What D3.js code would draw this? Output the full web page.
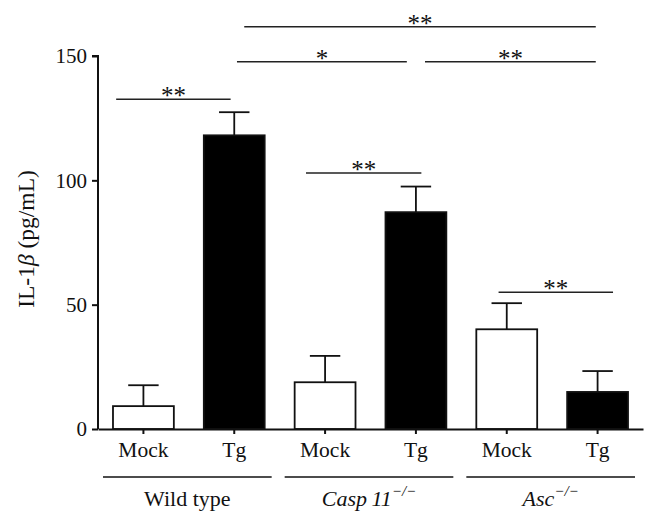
<!DOCTYPE html>
<html><head><meta charset="utf-8">
<script src="https://cdn.jsdelivr.net/npm/d3@7"></script>
<style>body{margin:0;background:#fff}svg{display:block}text{font-family:"Liberation Serif","DejaVu Serif",serif;fill:#111}</style>
</head><body><svg id="c" width="657" height="529"></svg>
<script>
const categories = ["Mock","Tg","Mock","Tg","Mock","Tg"];
const treatments = ["mock","tg","mock","tg","mock","tg"];
const values = [9.2, 118.1, 18.8, 87.2, 40.1, 14.9];
const errors = [8.4, 9.3, 10.6, 10.3, 10.5, 8.4];
const yTicks = [0, 50, 100, 150];
const groups = [
  {name:"Wild type", sup:"", italic:false, from:0, to:1},
  {name:"Casp\u200911", sup:"\u2212/\u2212", italic:true, from:2, to:3},
  {name:"Asc", sup:"\u2212/\u2212", italic:true, from:4, to:5}
];
// significance brackets: x in category-index units, y in data units
const sigX1 = [-0.30, 1.11, 1.03, 3.10, 1.79, 3.91];
const sigX2 = [0.96, 4.98, 2.90, 4.98, 3.06, 5.17];
const sigY  = [132.6, 161.8, 147.7, 147.7, 102.9, 55.0];
const sigLabel = ["**","**","*","**","**","**"];

const svg = d3.select("#c");
const x = d3.scaleBand().domain(d3.range(categories.length)).range([98, 643]).paddingInner(0.33).paddingOuter(0.165);
const xi = d3.scaleLinear().domain([0,1]).range([x(0)+x.bandwidth()/2, x(1)+x.bandwidth()/2]);
const y = d3.scaleLinear().domain([0,150]).range([429, 56]);

// error bars
const eb = svg.append("g");
values.forEach((v,i)=>{
  const cx = x(i)+x.bandwidth()/2;
  eb.append("line").attr("x1",cx).attr("x2",cx).attr("y1",y(v)).attr("y2",y(v+errors[i])).attr("stroke","#111").attr("stroke-width",1.8);
  eb.append("line").attr("x1",cx-x.bandwidth()/4).attr("x2",cx+x.bandwidth()/4).attr("y1",y(v+errors[i])).attr("y2",y(v+errors[i])).attr("stroke","#111").attr("stroke-width",1.8);
});
// bars
svg.append("g").selectAll("rect").data(values).join("rect")
  .attr("x",(d,i)=>x(i)).attr("width",x.bandwidth())
  .attr("y",d=>y(d)).attr("height",d=>y(0)-y(d))
  .attr("fill",(d,i)=>treatments[i]==="tg"?"#000":"#fff")
  .attr("stroke","#111").attr("stroke-width",1.8);

// y axis
const ya = svg.append("g").attr("transform","translate(98,0)")
  .call(d3.axisLeft(y).tickValues(yTicks).tickSize(6).tickPadding(5));
ya.selectAll("path,line").attr("stroke","#111").attr("stroke-width",2);
ya.select(".domain").attr("d", `M-6,${y(150)}H0V${y(0)}`);
ya.selectAll("text").attr("font-size",21).attr("font-family","Liberation Serif").attr("fill","#111");

// x axis
const xa = svg.append("g").attr("transform","translate(0,429)")
  .call(d3.axisBottom(x).tickFormat(i=>categories[i]).tickSize(5).tickPadding(8).tickSizeOuter(0));
xa.selectAll("path,line").attr("stroke","#111").attr("stroke-width",2);
xa.selectAll("text").attr("font-size",21.5).attr("font-family","Liberation Serif").attr("fill","#111");

// group lines & labels
groups.forEach(g=>{
  const x1 = x(g.from) - x.step()*x.paddingInner()/2 + 5;
  const x2 = x(g.to) + x.bandwidth() + x.step()*x.paddingInner()/2 - 8;
  svg.append("line").attr("x1",x1).attr("x2",x2).attr("y1",477).attr("y2",477).attr("stroke","#111").attr("stroke-width",1.5);
  const t = svg.append("text").attr("x",(x1+x2)/2).attr("y",506).attr("text-anchor","middle").attr("font-size",22);
  t.append("tspan").text(g.name).attr("font-style",g.italic?"italic":"normal");
  if(g.sup) t.append("tspan").text(g.sup).attr("font-style","italic").attr("font-size",15).attr("dy",-10);
});

// y title
const yt = svg.append("text").attr("transform","translate(34,239) rotate(-90)").attr("text-anchor","middle").attr("font-size",23.5);
yt.append("tspan").text("IL-1");
yt.append("tspan").text("\u03b2").attr("font-style","italic");
yt.append("tspan").text(" (pg/mL)");

// significance
sigY.forEach((sy,i)=>{
  const x1 = xi(sigX1[i]), x2 = xi(sigX2[i]);
  svg.append("line").attr("x1",x1).attr("x2",x2).attr("y1",y(sy)).attr("y2",y(sy)).attr("stroke","#222").attr("stroke-width",1.5);
  svg.append("text").attr("x",(x1+x2)/2).attr("y",y(sy)+5).attr("text-anchor","middle").attr("font-size",25).attr("letter-spacing",0).attr("fill","#333").text(sigLabel[i]);
});
</script></body></html>
